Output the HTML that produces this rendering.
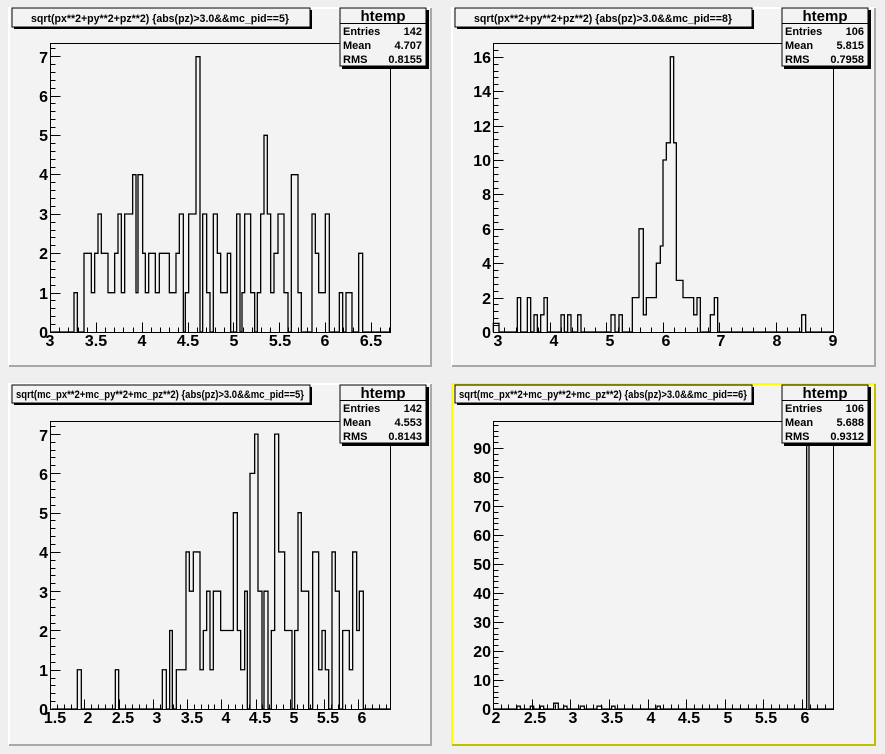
<!DOCTYPE html>
<html><head><meta charset="utf-8">
<style>
html,body{margin:0;padding:0;background:#efefef;}
svg{display:block;}
text{font-family:"Liberation Sans",sans-serif;font-weight:bold;fill:#000;}
.ax{font-size:16px;}
.tt{font-size:11px;}
.st{font-size:11px;}
.ht{font-size:15px;}
</style></head>
<body>
<svg id="s" width="885" height="754" viewBox="0 0 885 754" xmlns="http://www.w3.org/2000/svg">
<rect x="0" y="0" width="885" height="754" fill="#efefef"/>
<g id="pads">
<rect x="9" y="8" width="422" height="358" fill="#f3f3f3"/>
<path d="M9 366 V8 H431" fill="none" stroke="#ffffff" stroke-width="2"/>
<path d="M9 366 H431 V8" fill="none" stroke="#a8a8a8" stroke-width="2"/>
<rect x="452" y="8" width="423" height="358" fill="#f3f3f3"/>
<path d="M452 366 V8 H875" fill="none" stroke="#ffffff" stroke-width="2"/>
<path d="M452 366 H875 V8" fill="none" stroke="#a8a8a8" stroke-width="2"/>
<rect x="9" y="384" width="422" height="361" fill="#f3f3f3"/>
<path d="M9 745 V384 H431" fill="none" stroke="#ffffff" stroke-width="2"/>
<path d="M9 745 H431 V384" fill="none" stroke="#a8a8a8" stroke-width="2"/>
<rect x="452" y="384" width="423" height="361" fill="#f3f3f3"/>
<path d="M452 745 V384 H875" fill="none" stroke="#ffff00" stroke-width="2"/>
<path d="M452 745 H875 V384" fill="none" stroke="#c0c000" stroke-width="2"/>
</g>
<g id="g" fill="none" stroke="#000" stroke-width="1" shape-rendering="crispEdges"></g>

<g class="ax" text-anchor="middle">
<text x="50" y="346">3</text><text x="96" y="346">3.5</text><text x="142" y="346">4</text><text x="188" y="346">4.5</text><text x="234" y="346">5</text><text x="280" y="346">5.5</text><text x="325" y="346">6</text><text x="371" y="346">6.5</text>
</g>
<g class="ax" text-anchor="end">
<text x="48" y="338">0</text><text x="48" y="299">1</text><text x="48" y="259">2</text><text x="48" y="220">3</text><text x="48" y="180">4</text><text x="48" y="141">5</text><text x="48" y="102">6</text><text x="48" y="63">7</text>
</g>
<g class="ax" text-anchor="middle">
<text x="498" y="346">3</text><text x="554" y="346">4</text><text x="610" y="346">5</text><text x="666" y="346">6</text><text x="721" y="346">7</text><text x="777" y="346">8</text><text x="833" y="346">9</text>
</g>
<g class="ax" text-anchor="end">
<text x="491" y="338">0</text><text x="491" y="304">2</text><text x="491" y="269">4</text><text x="491" y="235">6</text><text x="491" y="200">8</text><text x="491" y="166">10</text><text x="491" y="132">12</text><text x="491" y="97">14</text><text x="491" y="63">16</text>
</g>
<g class="ax" text-anchor="middle">
<text x="55" y="723">1.5</text><text x="88" y="723">2</text><text x="123" y="723">2.5</text><text x="157" y="723">3</text><text x="192" y="723">3.5</text><text x="226" y="723">4</text><text x="260" y="723">4.5</text><text x="294" y="723">5</text><text x="328" y="723">5.5</text><text x="362" y="723">6</text>
</g>
<g class="ax" text-anchor="end">
<text x="48" y="715">0</text><text x="48" y="676">1</text><text x="48" y="637">2</text><text x="48" y="598">3</text><text x="48" y="558">4</text><text x="48" y="519">5</text><text x="48" y="480">6</text><text x="48" y="441">7</text>
</g>
<g class="ax" text-anchor="middle">
<text x="496" y="723">2</text><text x="535" y="723">2.5</text><text x="573" y="723">3</text><text x="612" y="723">3.5</text><text x="651" y="723">4</text><text x="689" y="723">4.5</text><text x="728" y="723">5</text><text x="766" y="723">5.5</text><text x="805" y="723">6</text>
</g>
<g class="ax" text-anchor="end">
<text x="491" y="715">0</text><text x="491" y="686">10</text><text x="491" y="657">20</text><text x="491" y="628">30</text><text x="491" y="599">40</text><text x="491" y="570">50</text><text x="491" y="541">60</text><text x="491" y="512">70</text><text x="491" y="483">80</text><text x="491" y="454">90</text>
</g>

<g>
<rect x="14" y="10" width="298" height="19" fill="#000"/>
<rect x="12" y="8" width="298" height="19" fill="#f3f3f3" stroke="#000"/>
<text class="tt" x="31" y="22" textLength="258" lengthAdjust="spacingAndGlyphs">sqrt(px**2+py**2+pz**2) {abs(pz)&gt;3.0&amp;&amp;mc_pid==5}</text>
<rect x="457" y="10" width="297" height="19" fill="#000"/>
<rect x="455" y="8" width="297" height="19" fill="#f3f3f3" stroke="#000"/>
<text class="tt" x="474" y="22" textLength="258" lengthAdjust="spacingAndGlyphs">sqrt(px**2+py**2+pz**2) {abs(pz)&gt;3.0&amp;&amp;mc_pid==8}</text>
<rect x="14" y="387" width="298" height="18" fill="#000"/>
<rect x="12" y="385" width="298" height="18" fill="#f3f3f3" stroke="#000"/>
<text class="tt" x="16" y="398" textLength="288" lengthAdjust="spacingAndGlyphs">sqrt(mc_px**2+mc_py**2+mc_pz**2) {abs(pz)&gt;3.0&amp;&amp;mc_pid==5}</text>
<rect x="457" y="387" width="297" height="18" fill="#000"/>
<rect x="455" y="385" width="297" height="18" fill="#f3f3f3" stroke="#000"/>
<text class="tt" x="459" y="398" textLength="288" lengthAdjust="spacingAndGlyphs">sqrt(mc_px**2+mc_py**2+mc_pz**2) {abs(pz)&gt;3.0&amp;&amp;mc_pid==6}</text>
</g>
<g id="hist" fill="none" stroke="#000" stroke-width="1.3"></g>
<g>
<rect x="342" y="10" width="87" height="59" fill="#000"/>
<rect x="340" y="8" width="86" height="58" fill="#f3f3f3" stroke="#000"/>
<line x1="340" y1="23.5" x2="426" y2="23.5" stroke="#000"/>
<text class="ht" x="383" y="21" text-anchor="middle">htemp</text>
<text class="st" x="343" y="35">Entries</text><text class="st" x="422" y="35" text-anchor="end">142</text>
<text class="st" x="343" y="49">Mean</text><text class="st" x="422" y="49" text-anchor="end">4.707</text>
<text class="st" x="343" y="63">RMS</text><text class="st" x="422" y="63" text-anchor="end">0.8155</text>

<rect x="784" y="10" width="87" height="59" fill="#000"/>
<rect x="782" y="8" width="86" height="58" fill="#f3f3f3" stroke="#000"/>
<line x1="782" y1="23.5" x2="868" y2="23.5" stroke="#000"/>
<text class="ht" x="825" y="21" text-anchor="middle">htemp</text>
<text class="st" x="785" y="35">Entries</text><text class="st" x="864" y="35" text-anchor="end">106</text>
<text class="st" x="785" y="49">Mean</text><text class="st" x="864" y="49" text-anchor="end">5.815</text>
<text class="st" x="785" y="63">RMS</text><text class="st" x="864" y="63" text-anchor="end">0.7958</text>

<rect x="342" y="387" width="87" height="59" fill="#000"/>
<rect x="340" y="385" width="86" height="58" fill="#f3f3f3" stroke="#000"/>
<line x1="340" y1="400.5" x2="426" y2="400.5" stroke="#000"/>
<text class="ht" x="383" y="398" text-anchor="middle">htemp</text>
<text class="st" x="343" y="412">Entries</text><text class="st" x="422" y="412" text-anchor="end">142</text>
<text class="st" x="343" y="426">Mean</text><text class="st" x="422" y="426" text-anchor="end">4.553</text>
<text class="st" x="343" y="440">RMS</text><text class="st" x="422" y="440" text-anchor="end">0.8143</text>

<rect x="784" y="387" width="87" height="59" fill="#000"/>
<rect x="782" y="385" width="86" height="58" fill="#f3f3f3" stroke="#000"/>
<line x1="782" y1="400.5" x2="868" y2="400.5" stroke="#000"/>
<text class="ht" x="825" y="398" text-anchor="middle">htemp</text>
<text class="st" x="785" y="412">Entries</text><text class="st" x="864" y="412" text-anchor="end">106</text>
<text class="st" x="785" y="426">Mean</text><text class="st" x="864" y="426" text-anchor="end">5.688</text>
<text class="st" x="785" y="440">RMS</text><text class="st" x="864" y="440" text-anchor="end">0.9312</text>
</g>
</svg>
<script>
(function(){
var NS="http://www.w3.org/2000/svg";
var g=document.getElementById('g'), h=document.getElementById('hist');
function el(p,t,a){var e=document.createElementNS(NS,t);for(var k in a)e.setAttribute(k,a[k]);p.appendChild(e);return e;}
function frame(x0,x1,y0,y1,xv0,xs,xmin,xmax,xstep,yv0,ys,ymin,ymax,ystep){
 el(g,'rect',{x:x0+.5,y:y0+.5,width:x1-x0,height:y1-y0,fill:'#f3f3f3'});
 var d='';
 for(var v=xmin;v<=xmax+1e-9;v+=xstep/5){var px=Math.round(x0+(v-xv0)*xs)+.5; if(px<x0||px>x1)continue; var maj=Math.abs(Math.round((v)/xstep)*xstep-v)<1e-6; var L=maj?10:5; d+='M'+px+' '+(y1+.5)+'V'+(y1+.5-L);}
 for(var v=ymin;v<=ymax+1e-9;v+=ystep/5){var py=Math.round(y1-(v-yv0)*ys)+.5; if(py<y0)continue; var maj=Math.abs(Math.round(v/ystep)*ystep-v)<1e-6; var L=maj?10:5; d+='M'+(x0+.5)+' '+py+'H'+(x0+.5+L);}
 el(g,'path',{d:d});
 el(g,'rect',{x:x0+.5,y:y0+.5,width:x1-x0,height:y1-y0,fill:'none'});
}
frame(50,390,43,332, 3,91.7,3,6.7,0.5, 0,39.4,0,7.3,1);
frame(493,833,43,332, 3,56.6,3,9,1, 0,17.2,0,16.8,2);
frame(50,390,421,709, 1.5,68.5,1.5,6.4,0.5, 0,39.3,0,7.3,1);
frame(493,833,421,709, 2,77.25,2,6.4,0.5, 0,2.9,0,99,10);
function hist(ox,oy,x0,base,unit,seg){
 var d='M'+x0+' '+base;
 seg.forEach(function(s){var y=base-s[0]*unit; d+='V'+y+'H'+s[1];});
 d+='V'+base;
 el(h,'path',{d:d,transform:'translate('+ox+','+oy+') scale(0.33333)','vector-effect':'non-scaling-stroke'});
}
hist(0,0,150,996,118,[[0,222],[1,232],[0,252],[2,274],[1,284],[2,294],[3,304],[2,324],[1,344],[2,354],[3,364],[1,374],[3,398],[4,408],[1,414],[4,428],[2,436],[1,446],[2,466],[1,478],[2,508],[1,528],[2,538],[3,550],[0,556],[1,566],[3,588],[7,600],[0,608],[3,620],[1,630],[0,640],[3,652],[2,662],[1,682],[2,692],[0,710],[3,720],[0,726],[1,734],[3,752],[1,764],[0,772],[1,782],[3,792],[5,802],[3,812],[1,822],[2,834],[3,852],[1,864],[0,874],[4,894],[1,904],[0,936],[3,946],[2,956],[1,976],[3,988],[0,1018],[1,1028],[0,1038],[1,1056],[0,1076],[2,1088],[0,1170]]);
hist(445,0,145,996,51.6,[[0.5,162],[0,217],[2,227],[0,247],[2,257],[0,267],[1,277],[0,287],[1,297],[2,307],[0,348],[1,358],[0,368],[1,378],[0,398],[1,408],[0,498],[1,510],[0,522],[1,532],[0,562],[2,582],[6,595],[1,604],[2,634],[4,646],[5,654],[10,664],[11,676],[16,686],[11,694],[3,714],[2,746],[1,756],[2,766],[0,796],[1,808],[2,818],[0,1070],[1,1082],[0,1165]]);
hist(0,380,155,987,117.8,[[0,232],[1,244],[0,346],[1,356],[0,487],[1,499],[0,509],[2,517],[0,529],[1,558],[4,568],[3,580],[4,600],[1,610],[2,620],[3,630],[1,640],[3,662],[2,700],[5,712],[2,722],[1,734],[3,742],[0,750],[6,764],[7,774],[3,786],[0,792],[3,804],[0,814],[2,824],[7,836],[4,854],[2,876],[0,884],[2,894],[5,904],[3,926],[0,938],[4,956],[1,966],[2,976],[1,986],[0,996],[4,1006],[3,1018],[0,1028],[2,1048],[1,1058],[4,1070],[2,1078],[3,1090],[0,1170]]);
hist(445,380,145,987,8.7,[[0,216],[1,226],[0,256],[1,266],[0,286],[1,296],[0,326],[2,340],[0,356],[1,366],[0,406],[1,418],[0,456],[1,470],[0,500],[1,510],[0,636],[1,646],[0,1085],[99.4,1092],[0,1165]]);
})();
</script>
</body></html>
